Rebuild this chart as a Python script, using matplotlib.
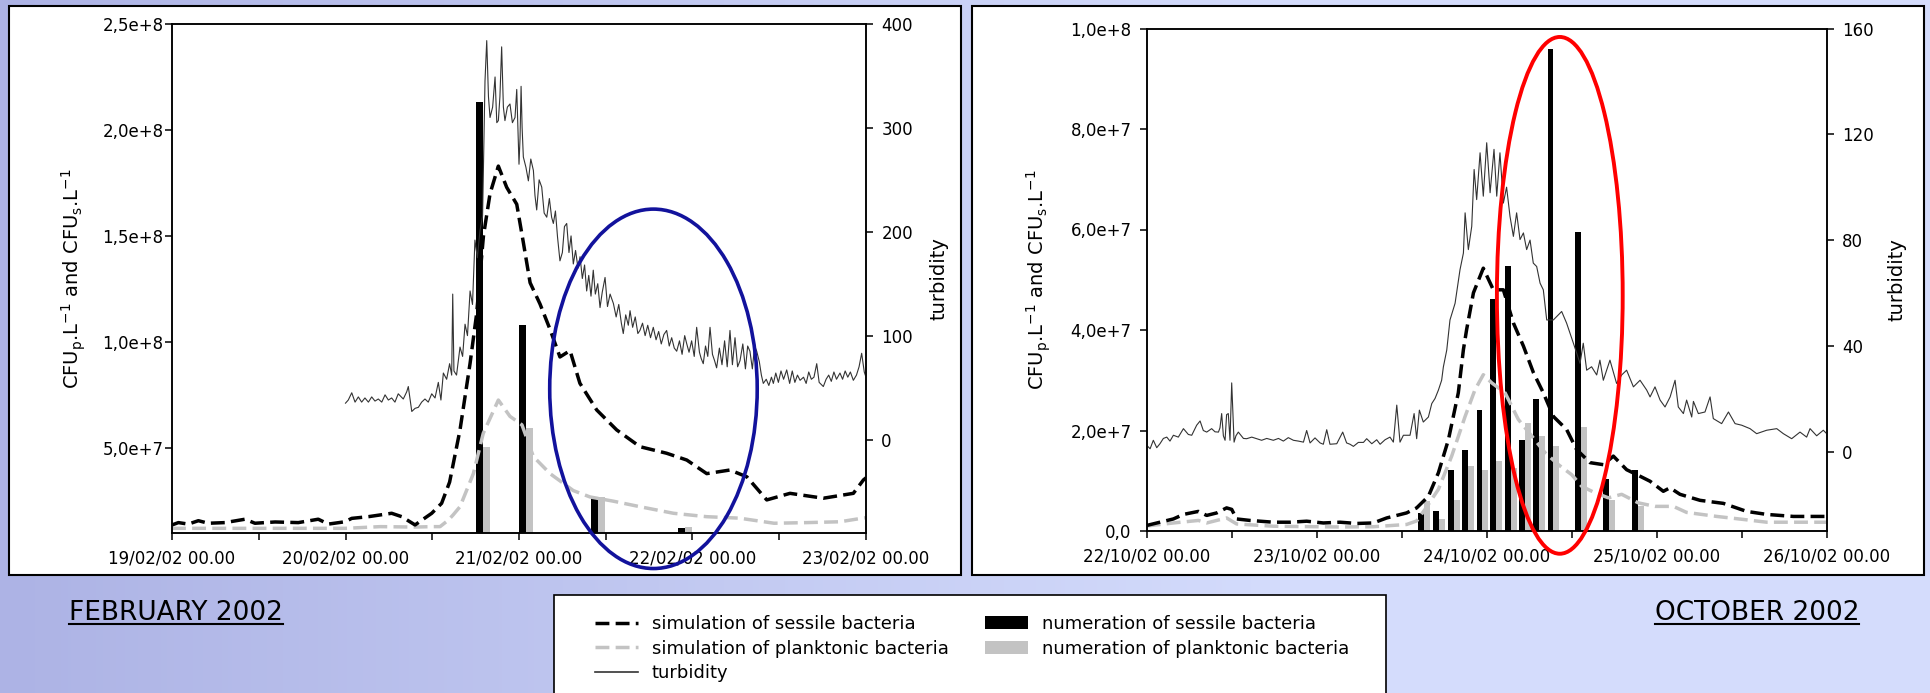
import numpy as np
import matplotlib
matplotlib.use('Agg')
import matplotlib.pyplot as plt
from matplotlib.patches import Rectangle, Ellipse, Patch
from matplotlib.lines import Line2D
from matplotlib.colors import LinearSegmentedColormap

plt.rcParams['font.family'] = 'DejaVu Sans'

# ---------------- data: February 2002 (days since 19/02/02 00.00) ----------------
feb_xlabels = ['19/02/02 00.00', '20/02/02 00.00', '21/02/02 00.00', '22/02/02 00.00', '23/02/02 00.00']
feb_yticks = [5e7, 1e8, 1.5e8, 2e8, 2.5e8]
feb_ylabels = ['5,0e+7', '1,0e+8', '1,5e+8', '2,0e+8', '2,5e+8']
feb_tticks = [0, 100, 200, 300, 400]

feb_turb_day = [1.00, 1.016, 1.036, 1.055, 1.074, 1.093, 1.112, 1.132, 1.151, 1.170, 1.189, 1.209, 1.228, 1.247,
                1.266, 1.285, 1.304, 1.333, 1.353, 1.362, 1.382, 1.401, 1.420, 1.439, 1.458, 1.477, 1.497, 1.516,
                1.535, 1.550, 1.564, 1.583, 1.600, 1.612, 1.618, 1.625, 1.640, 1.660, 1.675, 1.689, 1.703, 1.718,
                1.732, 1.746, 1.760, 1.775, 1.790, 1.804, 1.814, 1.824, 1.833, 1.848, 1.862, 1.872, 1.881, 1.890,
                1.900, 1.910, 1.919, 1.933, 1.948, 1.962, 1.977, 1.987, 2.000, 2.006, 2.012, 2.018, 2.025, 2.040,
                2.054, 2.068, 2.083, 2.092, 2.102, 2.116, 2.131, 2.145, 2.160, 2.175, 2.188, 2.198, 2.210, 2.222,
                2.236, 2.250, 2.262, 2.275, 2.288, 2.300, 2.313, 2.326, 2.340, 2.352, 2.365, 2.378, 2.390, 2.402,
                2.415, 2.428, 2.440, 2.454, 2.467, 2.480, 2.496, 2.510, 2.525, 2.544, 2.560, 2.575, 2.590, 2.601,
                2.615, 2.630, 2.640, 2.655, 2.670, 2.685, 2.697, 2.712, 2.727, 2.742, 2.758, 2.774, 2.790, 2.805,
                2.820, 2.835, 2.851, 2.866, 2.880, 2.895, 2.909, 2.925, 2.940, 2.955, 2.967, 2.980, 2.995, 3.010,
                3.024, 3.040, 3.050, 3.062, 3.075, 3.088, 3.101, 3.115, 3.127, 3.139, 3.155, 3.170, 3.185, 3.200,
                3.216, 3.230, 3.245, 3.260, 3.274, 3.290, 3.305, 3.318, 3.331, 3.345, 3.358, 3.370, 3.385, 3.397,
                3.408, 3.425, 3.440, 3.455, 3.466, 3.480, 3.495, 3.510, 3.525, 3.543, 3.560, 3.575, 3.590, 3.605,
                3.620, 3.640, 3.655, 3.670, 3.685, 3.700, 3.716, 3.730, 3.754, 3.770, 3.785, 3.800, 3.815, 3.830,
                3.850, 3.865, 3.880, 3.895, 3.910, 3.927, 3.945, 3.960, 3.975, 3.990, 4.000]
feb_turb_val = [35, 38, 45, 36, 41, 36, 40, 36, 41, 37, 39, 36, 43, 38,
                40, 36, 44, 39, 46, 51, 27, 30, 31, 36, 39, 36, 44, 40,
                55, 38, 64, 58, 73, 62, 140, 66, 62, 89, 80, 111, 100, 143,
                130, 192, 175, 201, 215, 345, 384, 330, 310, 320, 349, 305, 307, 330,
                378, 320, 307, 320, 323, 305, 310, 337, 265, 290, 340, 300, 272, 262,
                249, 270, 259, 235, 221, 250, 243, 218, 214, 232, 214, 208, 220, 195,
                172, 180, 205, 208, 180, 196, 169, 182, 165, 176, 155, 168, 143, 158,
                138, 163, 140, 150, 127, 142, 156, 128, 140, 131, 118, 130, 112, 102,
                120, 110, 124, 108, 118, 102, 105, 112, 100, 110, 98, 108, 96, 104,
                92, 101, 105, 90, 98, 88, 85, 95, 82, 100, 92, 84, 95, 80,
                108, 84, 78, 73, 90, 80, 108, 82, 76, 69, 88, 72, 95, 70,
                105, 72, 98, 70, 76, 92, 68, 90, 85, 68, 90, 85, 75, 62,
                54, 58, 52, 60, 54, 64, 55, 66, 58, 67, 54, 66, 55, 62,
                57, 60, 54, 65, 58, 60, 73, 55, 51, 58, 62, 56, 65, 58,
                64, 58, 66, 60, 65, 57, 62, 70, 83, 65, 60]

feb_sess_day = [0.0, 0.037, 0.094, 0.152, 0.209, 0.305, 0.421, 0.478, 0.594, 0.728, 0.843, 0.901, 0.997,
                1.036, 1.132, 1.266, 1.324, 1.401, 1.439, 1.497, 1.554, 1.600, 1.660, 1.718, 1.756, 1.795,
                1.833, 1.881, 1.929, 1.987, 2.025, 2.064, 2.121, 2.179, 2.236, 2.294, 2.351, 2.448, 2.563,
                2.697, 2.851, 2.967, 3.082, 3.216, 3.313, 3.428, 3.562, 3.754, 3.927, 3.985, 4.0]
feb_sess_val = [1.38e7, 1.49e7, 1.42e7, 1.58e7, 1.46e7, 1.49e7, 1.65e7, 1.46e7, 1.52e7, 1.49e7, 1.65e7, 1.42e7, 1.53e7,
                1.69e7, 1.77e7, 1.93e7, 1.77e7, 1.38e7, 1.6e7, 1.93e7, 2.4e7, 3.4e7, 5.86e7, 9.0e7, 1.135e8, 1.5e8,
                1.7e8, 1.83e8, 1.73e8, 1.65e8, 1.47e8, 1.28e8, 1.18e8, 1.06e8, 9.3e7, 9.6e7, 8.06e7, 6.8e7, 5.86e7,
                5.07e7, 4.76e7, 4.44e7, 3.8e7, 3.97e7, 3.65e7, 2.56e7, 2.87e7, 2.64e7, 2.87e7, 3.5e7, 3.6e7]

feb_plank_day = [0.0, 0.5, 1.0, 1.2, 1.4, 1.5, 1.545, 1.593, 1.62, 1.66, 1.737, 1.794, 1.881, 1.948, 2.017,
                 2.083, 2.179, 2.313, 2.409, 2.544, 2.697, 2.89, 3.08, 3.27, 3.47, 3.66, 3.85, 3.98, 4.0]
feb_plank_val = [1.22e7, 1.22e7, 1.22e7, 1.3e7, 1.28e7, 1.3e7, 1.3e7, 1.61e7, 1.85e7, 2.24e7, 3.8e7, 5.7e7, 7.27e7,
                 6.5e7, 6.1e7, 4.6e7, 3.8e7, 3.0e7, 2.7e7, 2.5e7, 2.24e7, 1.93e7, 1.77e7, 1.7e7, 1.46e7, 1.49e7,
                 1.53e7, 1.7e7, 1.72e7]

feb_bar_day = [1.79, 2.04, 2.455, 2.955]
feb_bar_sessile = [2.13e8, 1.08e8, 2.71e7, 1.22e7]
feb_bar_plankt = [5.07e7, 5.96e7, 2.7e7, 1.3e7]

# ---------------- data: October 2002 (days since 22/10/02 00.00) ----------------
oct_xlabels = ['22/10/02 00.00', '23/10/02 00.00', '24/10/02 00.00', '25/10/02 00.00', '26/10/02 00.00']
oct_yticks = [0, 2e7, 4e7, 6e7, 8e7, 1e8]
oct_ylabels = ['0,0', '2,0e+7', '4,0e+7', '6,0e+7', '8,0e+7', '1,0e+8']
oct_tticks = [0, 40, 80, 120, 160]

oct_turb_day = [0.0, 0.020, 0.039, 0.059, 0.078, 0.098, 0.118, 0.137, 0.157, 0.186, 0.216, 0.245, 0.265, 0.294,
                0.314, 0.333, 0.353, 0.382, 0.402, 0.422, 0.431, 0.441, 0.451, 0.461, 0.470, 0.480, 0.490, 0.500,
                0.514, 0.525, 0.539, 0.569, 0.588, 0.618, 0.647, 0.676, 0.706, 0.745, 0.775, 0.804, 0.833, 0.863,
                0.892, 0.922, 0.941, 0.961, 0.990, 1.020, 1.039, 1.059, 1.078, 1.118, 1.153, 1.176, 1.196, 1.216,
                1.245, 1.275, 1.294, 1.324, 1.353, 1.373, 1.402, 1.431, 1.451, 1.471, 1.490, 1.510, 1.549, 1.573,
                1.588, 1.604, 1.627, 1.657, 1.677, 1.696, 1.716, 1.735, 1.745, 1.765, 1.784, 1.814, 1.843, 1.863,
                1.873, 1.892, 1.912, 1.926, 1.941, 1.961, 1.980, 2.000, 2.020, 2.043, 2.059, 2.078, 2.098, 2.117,
                2.137, 2.157, 2.176, 2.196, 2.216, 2.235, 2.255, 2.274, 2.294, 2.314, 2.333, 2.353, 2.392, 2.441,
                2.470, 2.510, 2.549, 2.568, 2.588, 2.617, 2.647, 2.666, 2.686, 2.725, 2.764, 2.794, 2.823, 2.863,
                2.902, 2.941, 2.961, 2.990, 3.020, 3.049, 3.079, 3.108, 3.127, 3.157, 3.176, 3.206, 3.216, 3.245,
                3.284, 3.314, 3.333, 3.382, 3.422, 3.461, 3.500, 3.549, 3.588, 3.647, 3.706, 3.745, 3.794, 3.843,
                3.882, 3.902, 3.941, 3.980, 4.000]
oct_turb_val = [2.4, 1.1, 4.3, 1.5, 3.0, 5.0, 5.5, 4.0, 6.2, 5.5, 8.7, 6.5, 6.2, 10.0,
                11.6, 8.0, 7.4, 8.7, 7.5, 7.4, 9.0, 14.4, 6.0, 4.3, 14.0, 14.4, 4.3, 26.0,
                3.6, 6.0, 7.4, 5.0, 4.9, 5.5, 4.9, 4.3, 5.0, 4.3, 5.0, 4.0, 5.3, 4.3,
                4.0, 3.6, 8.0, 3.3, 5.2, 3.3, 2.8, 8.3, 2.8, 3.0, 7.4, 3.3, 2.8, 2.0,
                3.5, 3.5, 4.9, 3.0, 4.5, 2.8, 4.5, 5.5, 3.6, 17.6, 3.6, 6.2, 6.2, 14.4,
                4.9, 15.7, 11.2, 13.1, 18.2, 20.1, 23.3, 27.0, 32.0, 38.4, 49.8, 56.1, 68.8, 75.1,
                90.3, 76.4, 85.2, 106.7, 95.3, 113.0, 96.6, 116.8, 97.9, 114.3, 96.6, 113.0, 94.0, 100.0,
                89.0, 81.4, 90.3, 80.2, 82.7, 76.4, 80.0, 71.3, 70.0, 63.7, 61.2, 49.8, 49.8, 53.0,
                48.6, 41.0, 33.4, 41.0, 30.8, 32.1, 29.0, 34.6, 27.0, 34.6, 25.8, 29.0, 30.8, 24.5,
                27.0, 23.3, 20.7, 24.5, 19.5, 16.9, 20.7, 27.0, 16.9, 14.4, 19.5, 13.1, 19.0, 14.4,
                15.0, 20.7, 12.5, 10.6, 15.0, 10.6, 10.0, 8.7, 6.8, 8.1, 8.7, 6.8, 4.9, 7.4,
                5.5, 8.7, 6.0, 8.1, 6.8]

oct_sess_day = [0.0, 0.078, 0.157, 0.216, 0.304, 0.353, 0.412, 0.470, 0.500, 0.529, 0.608, 0.745, 0.843, 0.941,
                1.039, 1.137, 1.235, 1.333, 1.412, 1.471, 1.529, 1.588, 1.657, 1.716, 1.775, 1.833, 1.863, 1.882,
                1.922, 1.980, 2.039, 2.098, 2.157, 2.216, 2.275, 2.333, 2.392, 2.470, 2.529, 2.608, 2.686, 2.745,
                2.823, 2.902, 2.961, 3.039, 3.078, 3.137, 3.255, 3.392, 3.529, 3.647, 3.804, 4.0]
oct_sess_val = [1.1e6, 1.75e6, 2.4e6, 3.3e6, 3.9e6, 3.1e6, 3.6e6, 4.6e6, 4.3e6, 2.4e6, 2.1e6, 1.75e6, 1.75e6, 1.95e6,
                1.6e6, 1.75e6, 1.5e6, 1.6e6, 2.6e6, 3.1e6, 3.6e6, 4.6e6, 6.9e6, 11.6e6, 18.2e6, 27.5e6, 36.1e6, 40.1e6,
                47.4e6, 52.3e6, 48.0e6, 48.0e6, 41.4e6, 36.8e6, 31.5e6, 27.5e6, 22.8e6, 20.2e6, 16.2e6, 13.6e6, 13.2e6,
                14.9e6, 12.2e6, 10.9e6, 9.9e6, 7.9e6, 8.6e6, 7.3e6, 6.1e6, 5.5e6, 3.9e6, 3.3e6, 2.9e6, 2.9e6]

oct_plank_day = [0.0, 0.157, 0.304, 0.353, 0.470, 0.529, 0.745, 1.137, 1.333, 1.529, 1.588, 1.637, 1.716, 1.794,
                 1.873, 1.931, 1.980, 2.029, 2.108, 2.186, 2.265, 2.343, 2.422, 2.500, 2.559, 2.637, 2.716, 2.794,
                 2.892, 2.990, 3.098, 3.176, 3.353, 3.510, 3.647, 4.0]
oct_plank_val = [1.0e6, 1.6e6, 2.1e6, 1.6e6, 2.6e6, 1.4e6, 0.95e6, 0.8e6, 0.85e6, 1.3e6, 2.0e6, 4.3e6, 8.3e6, 14.9e6,
                 22.8e6, 28.1e6, 31.1e6, 29.5e6, 27.5e6, 22.2e6, 18.9e6, 15.6e6, 13.2e6, 11.2e6, 8.9e6, 7.6e6, 6.6e6,
                 7.3e6, 5.6e6, 4.9e6, 4.9e6, 3.7e6, 2.9e6, 2.3e6, 1.75e6, 1.75e6]

oct_bar_day = [1.631, 1.721, 1.806, 1.890, 1.974, 2.055, 2.143, 2.225, 2.308, 2.392, 2.555, 2.721, 2.890]
oct_bar_sessile = [3.6e6, 3.9e6, 12.1e6, 16.2e6, 24.0e6, 46.2e6, 52.7e6, 18.2e6, 26.2e6, 95.9e6, 59.6e6, 10.4e6, 12.1e6]
oct_bar_plankt = [5.9e6, 2.3e6, 6.1e6, 12.9e6, 12.2e6, 13.9e6, 12.6e6, 21.4e6, 18.9e6, 16.9e6, 20.6e6, 6.1e6, 4.9e6]

legend_labels = ['simulation of sessile bacteria', 'simulation of planktonic bacteria', 'turbidity',
                 'numeration of sessile bacteria', 'numeration of planktonic bacteria']

# ---------------- styles ----------------
W, H = 1930, 693
GRAY = '#c3c3c3'
YLAB = r'CFU$_\mathregular{p}$.L$^\mathregular{-1}$ and CFU$_\mathregular{s}$.L$^\mathregular{-1}$'

fig = plt.figure(figsize=(W / 100, H / 100), dpi=100)

# background gradient
bg = fig.add_axes([0, 0, 1, 1], zorder=-10)
cmap = LinearSegmentedColormap.from_list('bg', ['#adb3e5', '#d4dcfc'])
grad = np.clip(np.linspace(0, 1.5, 600), 0, 1)[None, :]
bg.imshow(grad, cmap=cmap, aspect='auto', extent=[0, 1, 0, 1], vmin=0, vmax=1)
bg.set_axis_off()


def px_rect(x0, y0, x1, y1, **kw):
    r = Rectangle((x0 / W, 1 - y1 / H), (x1 - x0) / W, (y1 - y0) / H, transform=fig.transFigure, **kw)
    fig.add_artist(r)
    return r


# white panel frames and legend box
px_rect(9, 6, 961, 575, facecolor='white', edgecolor='black', lw=1.5, zorder=-5)
px_rect(972, 6, 1924, 575, facecolor='white', edgecolor='black', lw=1.5, zorder=-5)
px_rect(554, 595, 1386, 702, facecolor='white', edgecolor='black', lw=1.2, zorder=-5)


def draw_panel(rect, xlabels, turb_day, turb_val, sess_day, sess_val, plank_day, plank_val,
               bar_day, bar_sess, bar_plank, bar_w, yticks, ylabels, ylim, tticks, tlim,
               ylab_x, tlab_x, lpad):
    ax = fig.add_axes(rect)
    ax2 = ax.twinx()
    ax.bar(np.array(bar_day) - bar_w / 2, bar_sess, width=bar_w, color='black', zorder=1)
    ax.bar(np.array(bar_day) + bar_w / 2, bar_plank, width=bar_w, color=GRAY, zorder=1)
    ax.plot(plank_day, plank_val, color=GRAY, lw=2.5, dashes=(4, 1.8), zorder=2)
    ax.plot(sess_day, sess_val, color='black', lw=2.5, dashes=(4, 1.8), zorder=3)
    ax2.plot(turb_day, turb_val, color='#333333', lw=0.8)

    ax.set_xlim(0, 4)
    ax.set_xticks(np.arange(0, 4.01, 0.5))
    xl = []
    for lab in xlabels:
        xl += [lab, '']
    ax.set_xticklabels(xl[:-1])
    ax.set_ylim(*ylim)
    ax.set_yticks(yticks)
    ax.set_yticklabels(ylabels)
    ax2.set_ylim(*tlim)
    ax2.set_yticks(tticks)
    ax2.set_yticklabels([str(t) for t in tticks])

    ax.tick_params(axis='x', direction='out', length=5, width=1.1, labelsize=12, pad=7)
    ax.tick_params(axis='y', direction='out', length=5, width=1.1, labelsize=12, pad=lpad)
    ax2.tick_params(axis='y', direction='out', length=5, width=1.1, labelsize=12, pad=6)
    for s in list(ax.spines.values()) + list(ax2.spines.values()):
        s.set_linewidth(1.1)

    ax.set_ylabel(YLAB, fontsize=14)
    ax.yaxis.set_label_coords(ylab_x, 0.5)
    ax2.set_ylabel('turbidity', fontsize=14)
    ax2.yaxis.set_label_coords(tlab_x, 0.5)
    return ax, ax2


ax_f, ax2_f = draw_panel([172 / W, 1 - 533 / H, 694 / W, 509 / H], feb_xlabels,
                         feb_turb_day, feb_turb_val, feb_sess_day, feb_sess_val, feb_plank_day, feb_plank_val,
                         feb_bar_day, feb_bar_sessile, feb_bar_plankt, 0.04,
                         feb_yticks, feb_ylabels, (1e7, 2.5e8), feb_tticks, (-90, 400), -0.121, 1.091, 1)

ax_o, ax2_o = draw_panel([1146.7 / W, 1 - 531 / H, 680 / W, 502.5 / H], oct_xlabels,
                         oct_turb_day, oct_turb_val, oct_sess_day, oct_sess_val, oct_plank_day, oct_plank_val,
                         oct_bar_day, oct_bar_sessile, oct_bar_plankt, 0.034,
                         oct_yticks, oct_ylabels, (0, 1e8), oct_tticks, (-30, 160), -0.138, 1.090, 6)

# highlighted regions
ax2_f.add_patch(Ellipse((2.775, 48.8), 1.196, 346, fill=False, edgecolor='#12129c', lw=2.6,
                        clip_on=False, zorder=10))
ax2_o.add_patch(Ellipse((2.43, 59.1), 0.74, 195.4, fill=False, edgecolor='#ff0000', lw=2.8,
                        clip_on=False, zorder=10))

# captions with underline
renderer = fig.canvas.get_renderer()
for txt, x in [('FEBRUARY 2002', 69 / W), ('OCTOBER 2002', 1655 / W)]:
    t = fig.text(x, 1 - 620 / H, txt, fontsize=19, ha='left', va='baseline', color='black')
    bb = t.get_window_extent(renderer).transformed(fig.transFigure.inverted())
    fig.add_artist(Line2D([bb.x0, bb.x1], [1 - 624 / H] * 2, color='black', lw=1.5,
                          transform=fig.transFigure))

# legend
handles = [Line2D([], [], color='black', lw=2.5, dashes=(4, 1.8)),
           Line2D([], [], color=GRAY, lw=2.5, dashes=(4, 1.8)),
           Line2D([], [], color='#333333', lw=1.2),
           Patch(facecolor='black'),
           Patch(facecolor=GRAY)]
fig.legend(handles, legend_labels, ncol=2, loc='upper left', bbox_to_anchor=(595 / W, 1 - 615 / H),
           frameon=False, fontsize=13, borderpad=0, borderaxespad=0, handlelength=2.4,
           handletextpad=0.75, columnspacing=2.0, labelspacing=0.37)

fig.savefig('out.png', dpi=100)
